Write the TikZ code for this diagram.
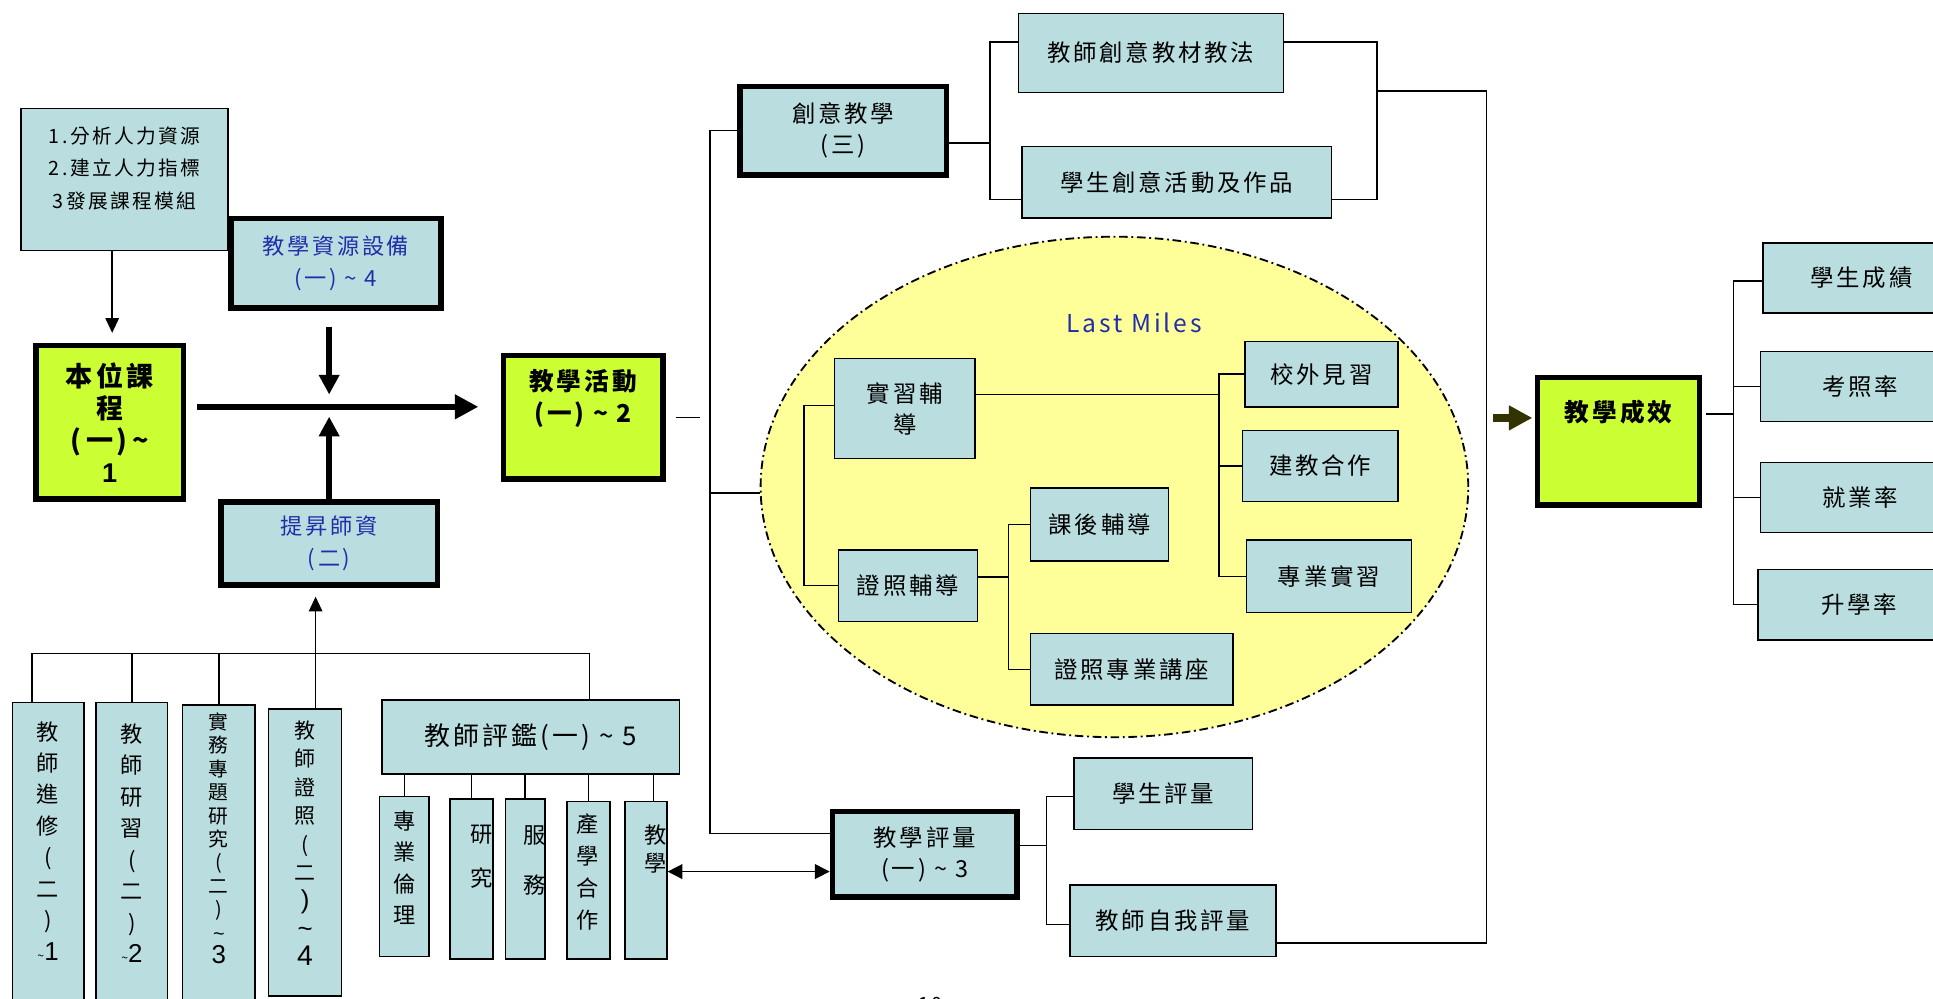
\documentclass[tikz,border=0pt]{standalone}
\usepackage{fontspec}
\setmainfont{Noto Sans CJK TC}[LetterSpace=12]
\newfontfamily\latinsans{Liberation Sans}
\usetikzlibrary{arrows.meta,shapes.geometric}
\definecolor{boxblue}{RGB}{186,222,224}
\definecolor{limegreen}{RGB}{204,255,51}
\definecolor{mileyellow}{RGB}{255,255,153}
\definecolor{textblue}{RGB}{35,45,170}
\definecolor{darkolive}{RGB}{51,51,0}
\newcommand{\tld}{\textasciitilde}
\begin{document}
\begin{tikzpicture}[x=1pt,y=-1pt]
      \tikzstyle{every node}+=[inner sep=0pt]
      \tikzstyle{box}=[draw, fill=boxblue, line width=1.2pt, align=center, font=\fontsize{19}{25}\selectfont]
      \tikzstyle{keybox}=[box, line width=4.5pt]
      \tikzstyle{greenbox}=[keybox, fill=limegreen]
      \tikzstyle{milezone}=[ellipse, draw, fill=mileyellow, line width=1.5pt, dash pattern=on 7pt off 3pt on 1.5pt off 3pt]
      \tikzstyle{vtxt}=[align=center, font=\fontsize{18}{25.5}\selectfont]
      \tikzstyle{conn}=[line width=1.2pt]
      \tikzstyle{arr}=[conn, -{Triangle[length=12pt,width=11pt]}]
      \tikzstyle{dblarr}=[conn, {Triangle[length=12pt,width=12pt]}-{Triangle[length=12pt,width=12pt]}]
      \tikzstyle{fatarr}=[line width=5pt, -{Triangle[length=16pt,width=16pt]}]
      \tikzstyle{olivearr}=[line width=7pt, darkolive, -{Triangle[length=19pt,width=19pt]}]
      \useasboundingbox[fill=white] (0,0) rectangle (1568,810);
      \node[box, minimum width=168pt, minimum height=115pt] (analysis) at (101,145.5) {};
      \node[font=\fontsize{16}{26.5}\selectfont, align=center] (analysis-t) at (101,136.5) {1.分析人力資源\\2.建立人力指標\\3發展課程模組};
      \node[keybox, text=textblue, font=\fontsize{18}{26}\selectfont, minimum width=170.5pt, minimum height=72.5pt] (resource) at (272.5,213.5) {教學資源設備\\(一) \tld\ 4};
      \node[greenbox, font=\bfseries\fontsize{22}{26}\selectfont, minimum width=119.5pt, minimum height=124.5pt] (benwei) at (89,342.5) {本位課\\程\\(\,一)\,\tld\\{\latinsans 1}};
      \node[keybox, text=textblue, font=\fontsize{18}{26}\selectfont, minimum width=175.5pt, minimum height=67.5pt] (tisheng) at (267,441) {提昇師資\\(二)};
      \node[greenbox, minimum width=129.5pt, minimum height=100.5pt] (activity) at (473,338.5) {};
      \node[font=\bfseries\fontsize{20}{26}\selectfont, align=center] (activity-t) at (473,323) {教學活動\\(一) \tld\ 2};
      \node[keybox, minimum width=167.5pt, minimum height=71.5pt] (chuangyi) at (684,106) {創意教學\\(三)};
      \node[box, minimum width=215pt, minimum height=64pt] (jiaofa) at (933.5,43) {教師創意教材教法};
      \node[box, minimum width=251pt, minimum height=58pt] (zuopin) at (954.5,148) {學生創意活動及作品};
      \node[milezone, minimum width=574pt, minimum height=406pt] (lastmile) at (904,395) {};
      \node[text=textblue, font=\fontsize{20}{20}\selectfont] (lastmile-t) at (920,262) {Last Miles};
      \node[box, minimum width=114pt, minimum height=81pt] (shixi) at (734,331.5) {實習輔\\導};
      \node[box, minimum width=113pt, minimum height=58pt] (zhengfu) at (736.5,475) {證照輔導};
      \node[box, minimum width=124pt, minimum height=53pt] (xiaowai) at (1072,303.5) {校外見習};
      \node[box, minimum width=126pt, minimum height=58pt] (jianjiao) at (1071,378) {建教合作};
      \node[box, minimum width=134pt, minimum height=59pt] (zhuanye) at (1078,467.5) {專業實習};
      \node[box, minimum width=112pt, minimum height=59pt] (kehou) at (892,425.5) {課後輔導};
      \node[box, minimum width=164pt, minimum height=58pt] (jiangzuo) at (918,543) {證照專業講座};
      \node[keybox, minimum width=149.5pt, minimum height=69.5pt] (pingliang) at (750,693) {教學評量\\(一) \tld\ 3};
      \node[box, minimum width=145pt, minimum height=58pt] (xspg) at (943.5,644) {學生評量};
      \node[box, minimum width=167pt, minimum height=58pt] (ziwo) at (951.5,747) {教師自我評量};
      \node[greenbox, minimum width=131.5pt, minimum height=103.5pt] (chengxiao) at (1313,358) {};
      \node[font=\bfseries\fontsize{20}{26}\selectfont] (chengxiao-t) at (1313,334) {教學成效};
      \node[box, minimum width=160pt, minimum height=57pt] (chengji) at (1510,225.5) {學生成績};
      \node[box, minimum width=162pt, minimum height=57pt] (kaozhao) at (1509,313.5) {考照率};
      \node[box, minimum width=162pt, minimum height=57pt] (jiuye) at (1509,403.5) {就業率};
      \node[box, minimum width=164pt, minimum height=57pt] (shengxue) at (1508,490.5) {升學率};
      \node[box, minimum width=58pt, minimum height=260pt] (jinxiu) at (39,700) {};
      \node[vtxt] (jinxiu-t) at (39,682) {教\\師\\進\\修\\(\\二\\)\\{\fontsize{10}{10}\selectfont\tld}{\latinsans\fontsize{21}{21}\selectfont 1}};
      \node[box, minimum width=58pt, minimum height=260pt] (yanxi) at (107,700) {};
      \node[vtxt] (yanxi-t) at (107,684) {教\\師\\研\\習\\(\\二\\)\\{\fontsize{10}{10}\selectfont\tld}{\latinsans\fontsize{21}{21}\selectfont 2}};
      \node[box, minimum width=59pt, minimum height=258pt] (shiwu) at (177.5,701) {};
      \node[vtxt, font=\fontsize{16}{19}\selectfont] (shiwu-t) at (177.5,680) {實\\務\\專\\題\\研\\究\\(\\二\\)\\{\latinsans\fontsize{16}{16}\selectfont\tld}\\{\latinsans\fontsize{21}{21}\selectfont 3}};
      \node[box, minimum width=59pt, minimum height=233pt] (zhengzhao) at (247.5,691.5) {};
      \node[vtxt, font=\fontsize{17}{23}\selectfont] (zhengzhao-t) at (247.5,684) {教\\師\\證\\照\\(\\二\\{\latinsans\fontsize{21}{21}\selectfont)}\\{\latinsans\fontsize{21}{21}\selectfont\tld}\\{\latinsans\fontsize{23}{23}\selectfont 4}};
      \node[box, font=\fontsize{21}{25}\selectfont, minimum width=241pt, minimum height=60pt] (pingjian) at (430.5,598) {教師評鑑(一) \tld\ 5};
      \node[box, minimum width=40pt, minimum height=130pt] (lunli) at (328,711) {};
      \node[vtxt] (lunli-t) at (328,704) {專\\業\\倫\\理};
      \node[box, minimum width=35pt, minimum height=130pt, path picture={\node[vtxt, font=\fontsize{18}{36}\selectfont] (yanjiu-t) at ([xshift=8.5pt,yshift=18pt]path picture bounding box.center) {研\\究};}] (yanjiu) at (382.5,713) {};
      \node[box, minimum width=32pt, minimum height=130pt, path picture={\node[vtxt, font=\fontsize{18}{40}\selectfont] (fuwu-t) at ([xshift=8pt,yshift=15pt]path picture bounding box.center) {服\\務};}] (fuwu) at (426,713) {};
      \node[box, minimum width=35pt, minimum height=128pt] (chanxue) at (477.5,714) {};
      \node[vtxt, font=\fontsize{18}{26}\selectfont] (chanxue-t) at (477,707) {產\\學\\合\\作};
      \node[box, minimum width=34pt, minimum height=128pt, path picture={\node[vtxt, font=\fontsize{18}{23}\selectfont] (jiaoxue-t) at ([xshift=8pt,yshift=25.5pt]path picture bounding box.center) {教\\學};}] (jiaoxue) at (524,714) {};
      \node[font=\fontsize{16}{16}\selectfont] (pagenum) at (755,815) {10};
      \coordinate (hub) at (267,330);
      \draw[arr, shorten >=8pt] ([xshift=-10pt]analysis.south) -- ([xshift=-10pt]analysis.south |- benwei.north);
      \draw[fatarr, shorten <=13pt, shorten >=10pt] (hub |- resource.south) -- (hub);
      \draw[fatarr, -{Triangle[length=19pt,width=19pt]}, shorten <=9pt, shorten >=18pt] (benwei.east |- hub) -- (activity.west |- hub);
      \draw[fatarr, shorten >=8pt] (hub |- tisheng.north) -- (hub);
      \coordinate (bus) at (256,530);
      \draw[conn] ([xshift=-13pt]jinxiu.north) |- (bus) -| ([xshift=47.5pt]pingjian.north);
      \draw[conn] (yanxi.north) -- (yanxi.north |- bus);
      \draw[conn] (shiwu.north) -- (shiwu.north |- bus);
      \draw[conn] ([xshift=8.5pt]zhengzhao.north) -- (bus);
      \draw[arr, shorten >=7pt] (bus) -- (bus |- tisheng.south);
      \draw[conn] (lunli.north) -- (lunli.north |- pingjian.south);
      \draw[conn] (yanjiu.north) -- (yanjiu.north |- pingjian.south);
      \draw[conn] (fuwu.north) -- (fuwu.north |- pingjian.south);
      \draw[conn] (chanxue.north) -- (chanxue.north |- pingjian.south);
      \draw[conn] ([xshift=6pt]jiaoxue.north) -- ([xshift=6pt]jiaoxue.north |- pingjian.south);
      \draw[dblarr] ([yshift=7pt]jiaoxue.east) -- ([yshift=-14pt]pingliang.west);
      \coordinate (trunk) at (576,400);
      \draw[conn] (chuangyi.west) -| (trunk) |- ([yshift=17pt]pingliang.west);
      \draw[conn] (trunk) -- (trunk -| lastmile.west);
      \draw[conn] ([xshift=8pt]activity.east) -- ++(20,0);
      \coordinate (cyfork) at (803,116);
      \draw[conn] ([yshift=-10pt]chuangyi.east) -- (cyfork);
      \draw[conn] ([yshift=9pt]jiaofa.west) -| (cyfork) |- ([yshift=-14pt]zuopin.west);
      \coordinate (cyjoin) at (1117,74);
      \draw[conn] ([yshift=9pt]jiaofa.east) -| (cyjoin) |- ([yshift=-14pt]zuopin.east);
      \coordinate (rtrunk) at (1206,400);
      \draw[conn] (cyjoin) -| (rtrunk) |- ([yshift=-18pt]ziwo.east);
      \coordinate (lmfork) at (652,400);
      \draw[conn] ([yshift=2.5pt]shixi.west) -| (lmfork) |- (zhengfu.west);
      \coordinate (sxfork) at (989,400);
      \draw[conn] ([yshift=11.5pt]shixi.east) -- ([yshift=11.5pt]shixi.east -| sxfork);
      \draw[conn] (xiaowai.west) -| (sxfork) |- (zhuanye.west);
      \draw[conn] (jianjiao.west) -- (jianjiao.west -| sxfork);
      \coordinate (zffork) at (818,468);
      \draw[conn] ([yshift=7pt]zhengfu.east) -- (zffork);
      \draw[conn] (kehou.west) -| (zffork) |- (jiangzuo.west);
      \coordinate (plfork) at (849,686);
      \draw[conn] ([yshift=7pt]pingliang.east) -- (plfork);
      \draw[conn] ([yshift=-2pt]xspg.west) -| (plfork) |- ([yshift=-3pt]ziwo.west);
      \draw[olivearr] ([xshift=-34pt,yshift=19pt]chengxiao.west) -- ([xshift=-2pt,yshift=19pt]chengxiao.west);
      \coordinate (cxfork) at (1406,336);
      \draw[conn] ([xshift=3pt,yshift=22pt]chengxiao.east) -- (cxfork);
      \draw[conn] ([yshift=-2.5pt]chengji.west) -| (cxfork) |- (shengxue.west);
      \draw[conn] (kaozhao.west) -- (kaozhao.west -| cxfork);
      \draw[conn] (jiuye.west) -- (jiuye.west -| cxfork);
\end{tikzpicture}
\end{document}
